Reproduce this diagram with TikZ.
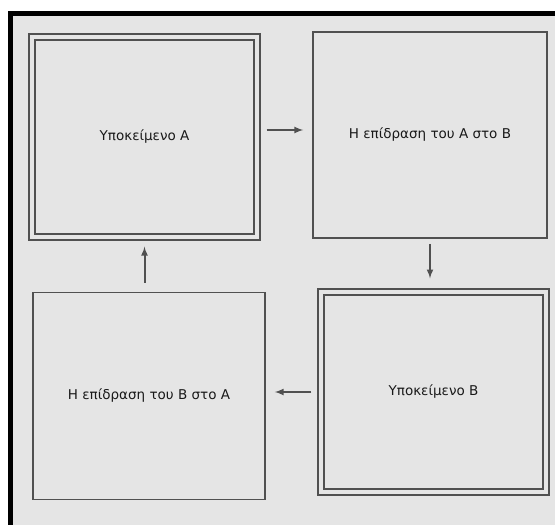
\documentclass[tikz,border=0pt]{standalone}
\usepackage{fontspec}
\setmainfont{DejaVu Sans}
\usepackage{tikz}
\usetikzlibrary{arrows}
\definecolor{paper}{RGB}{229,229,229}
\definecolor{ink}{RGB}{80,80,80}

\begin{document}
\begin{tikzpicture}[x=1pt,y=-1pt,
  box/.style={draw=ink, line width=1.6pt, minimum width=232pt, minimum height=207pt, inner sep=0pt, text=black!90, font=\fontsize{13.5}{16}\selectfont},
  dbox/.style={box, double=paper, double distance=4.5pt, line width=1.4pt, minimum width=225pt, minimum height=200pt},
  flow/.style={->, >=latex, draw=ink, line width=2pt, shorten <=9pt, shorten >=9pt}]
\useasboundingbox (0,0) rectangle (555,525);
\fill[white] (0,0) rectangle (555,525);
\fill[paper] (8,11) rectangle (555,525);
\draw[line width=5pt] (10.5,525) -- (10.5,13.5) -- (555,13.5);

\node[dbox] (subjA) at (144.5,137) {Υποκείμενο A};
\node[box, minimum width=234pt, minimum height=206pt] (effAB) at (430,135) {Η επίδραση του A στο B};
\node[box] (effBA) at (149,396) {Η επίδραση του B στο A};
\node[dbox] (subjB) at (433.5,392) {Υποκείμενο B};

\draw[flow] ([yshift=7pt]subjA.east) -- ([yshift=7pt]subjA.east -| effAB.west);
\draw[flow, shorten <=5pt, shorten >=13pt] (effAB.south) -- (effAB.south |- subjB.north);
\draw[flow] (subjB.west) -- (subjB.west -| effBA.east);
\draw[flow] (effBA.north -| subjA.south) -- (subjA.south);
\end{tikzpicture}
\end{document}
